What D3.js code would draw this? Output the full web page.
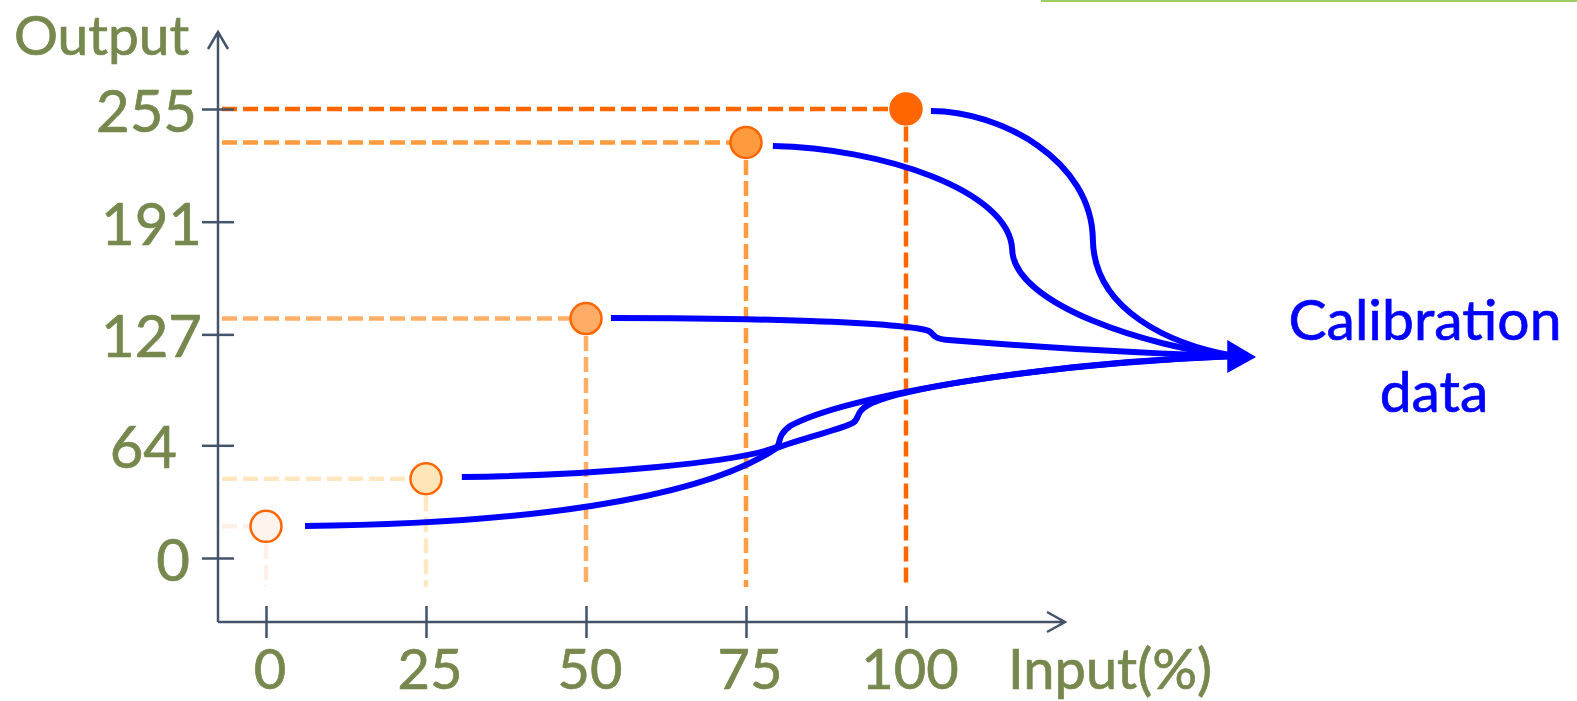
<!DOCTYPE html>
<html><head><meta charset="utf-8">
<script src="https://cdn.jsdelivr.net/npm/d3@7"></script>
<style>
html,body{margin:0;padding:0;background:#fff;}
svg{display:block;}
text{font-family:Lato,"Open Sans",sans-serif;}
</style>
</head><body>
<svg id="chart" width="1577" height="701"></svg>
<script>
// Input percentages and the measured output level for each
const inputs = [0, 25, 50, 75, 100];
const outputs = [18, 45, 136, 236, 255];
const pointFills = ["#fff3ee", "#ffe6b8", "#ffad66", "#ff9a3e", "#ff6600"];
const guideColors = ["#fff0ea", "#ffe8c0", "#ffb066", "#ff9a3e", "#ff6600"];
const yTicks = [0, 64, 127, 191, 255];
const xTicks = [0, 25, 50, 75, 100];
const yAxisTitle = "Output";
const xAxisTitle = "Input(%)";
const calloutLines = ["Calibration", "data"];

// Connectors from each measurement into the calibration data, in (input, output) units:
// a start point followed by cubic segments (control 1, control 2, end)
const flow0   = [[6.1,18.2],[39.7,19.3],[67.8,32.9],[79.8,62.5],[84.2,68.7],[89.7,72.7],[91.7,76.7],[92.8,78.9],[92.0,82.9],[94.1,86.9],[99.1,96.5],[122.5,110.2],[151.4,114.7]];
const flow25  = [[30.6,46.0],[52.2,47.1],[74.1,54.5],[79.8,63.0],[80.5,64.7],[79.7,69.3],[81.9,75.0],[90.5,92.6],[122.5,111.3],[151.4,114.7]];
const flow50  = [[53.9,136.3],[77.2,136.3],[97.5,134.0],[103.1,129.5],[104.7,128.4],[103.4,124.9],[106.6,123.8],[122.5,119.3],[138.1,115.9],[151.4,114.7]];
const flow75  = [[79.2,234.0],[95.9,232.9],[116.25,209.0],[116.6,174.9],[116.9,143.7],[138.1,119.3],[151.4,114.7]];
const flow100 = [[103.9,253.9],[114.7,253.9],[129.1,226.0],[129.2,180.6],[129.4,140.8],[141.25,121.0],[151.4,114.7]];
const flows = [flow0, flow25, flow50, flow75, flow100];
const arrowHead = [[150.2,123.8],[154.7,114.2],[150.2,105.1]];

const svg = d3.select("#chart");
const axisColor = "#44546a";
const labelColor = "#76884e";
const blue = "#0000ff";

const x = d3.scaleLinear().domain([0, 100]).range([266, 906]);
const y = d3.scaleLinear().domain([0, 255]).range([558, 109]);

const originX = 218, originY = 622;

// thin green rule along the top edge
svg.append("rect").attr("x", 1041).attr("y", 0).attr("width", 536).attr("height", 2).attr("fill", "#9bcf63");

// guide lines from each point back to the axes
const r = 15.5;
const guides = svg.append("g").attr("fill", "none").attr("stroke-width", 4.5).attr("stroke-dasharray", "15,6");
inputs.forEach((v, i) => {
  const cx = x(v), cy = y(outputs[i]);
  guides.append("line").attr("x1", originX + 4).attr("x2", cx - r).attr("y1", cy).attr("y2", cy).attr("stroke", guideColors[i]);
  guides.append("line").attr("x1", cx).attr("x2", cx).attr("y1", cy + r + 2).attr("y2", 587).attr("stroke", guideColors[i]);
});

// axes
const axes = svg.append("g");
axes.append("path")
  .attr("d", `M${originX},${originY}V32M${originX - 10},49L${originX},32L${originX + 10},49`)
  .attr("fill", "none").attr("stroke", axisColor).attr("stroke-width", 2.5);
axes.append("path")
  .attr("d", `M${originX},${originY}H1065M1047,612L1065,${originY}L1047,632`)
  .attr("fill", "none").attr("stroke", axisColor).attr("stroke-width", 2.5);

const yAxis = svg.append("g").attr("transform", "translate(234,0)")
  .call(d3.axisLeft(y).tickValues(yTicks).tickSize(32).tickFormat(""));
const xAxis = svg.append("g").attr("transform", "translate(0,606)")
  .call(d3.axisBottom(x).tickValues(xTicks).tickSize(32).tickFormat(""));
[yAxis, xAxis].forEach(g => {
  g.select(".domain").remove();
  g.selectAll(".tick line").attr("stroke", axisColor).attr("stroke-width", 2.5);
});

// tick labels
const yNudge = {255: -5, 64: -25, 0: -12};
const labels = svg.append("g").attr("fill", labelColor).attr("stroke", labelColor).attr("stroke-width", 0.7);
labels.selectAll("text.ylab").data(yTicks).join("text").attr("class", "ylab")
  .attr("x", d => 202 + (yNudge[d] || 0))
  .attr("y", d => y(d) + 23)
  .attr("text-anchor", "end").attr("font-size", 58)
  .text(d => d);
labels.selectAll("text.xlab").data(xTicks).join("text").attr("class", "xlab")
  .attr("x", d => x(d) + 4)
  .attr("y", 689)
  .attr("text-anchor", "middle").attr("font-size", 56)
  .text(d => d);

labels.append("text").attr("x", 14).attr("y", 55).attr("font-size", 55).text(yAxisTitle);
labels.append("text").attr("x", 1008).attr("y", 689).attr("font-size", 56).text(xAxisTitle);

// connectors into the calibration data
const toPx = p => [x(p[0]), y(p[1])];
flows.forEach(f => {
  const p = d3.path();
  const s = toPx(f[0]);
  p.moveTo(s[0], s[1]);
  for (let k = 1; k + 2 < f.length; k += 3) {
    const a = toPx(f[k]), b = toPx(f[k + 1]), c = toPx(f[k + 2]);
    p.bezierCurveTo(a[0], a[1], b[0], b[1], c[0], c[1]);
  }
  svg.append("path").attr("d", p.toString()).attr("fill", "none")
    .attr("stroke", blue).attr("stroke-width", 6).attr("stroke-linecap", "butt");
});
svg.append("path")
  .attr("d", "M" + arrowHead.map(toPx).map(q => q.join(",")).join("L") + "Z")
  .attr("fill", blue);

// measurement points
svg.append("g").selectAll("circle").data(inputs).join("circle")
  .attr("cx", d => x(d))
  .attr("cy", (d, i) => y(outputs[i]))
  .attr("r", r)
  .attr("fill", (d, i) => pointFills[i])
  .attr("stroke", "#ff6600").attr("stroke-width", 2.5);

// callout text
const callout = svg.append("text").attr("text-anchor", "middle").attr("font-size", 57)
  .attr("fill", blue).attr("stroke", blue).attr("stroke-width", 0.7);
callout.append("tspan").attr("x", 1425).attr("y", 340).text(calloutLines[0]);
callout.append("tspan").attr("x", 1434).attr("y", 412).text(calloutLines[1]);
</script>
</body></html>
